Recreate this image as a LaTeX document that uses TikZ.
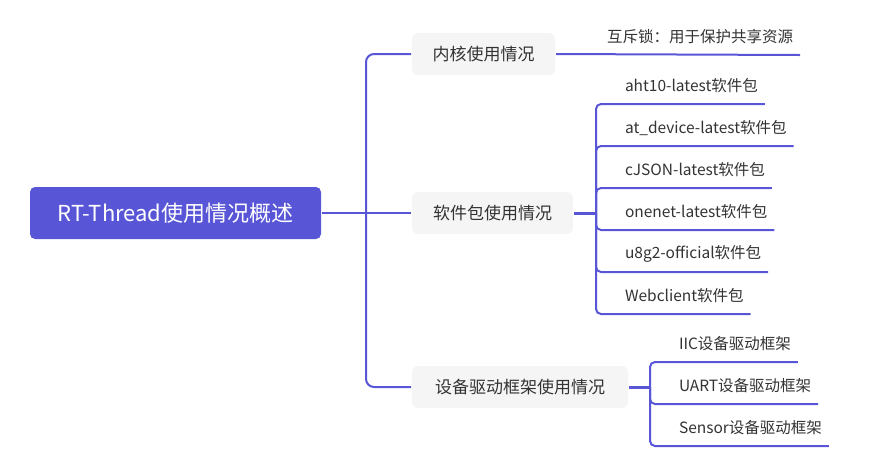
\documentclass[tikz,border=0pt]{standalone}
\usepackage{fontspec}
\setmainfont{Noto Sans CJK SC}
\definecolor{mapblue}{HTML}{5856D6}
\definecolor{boxgray}{HTML}{F5F5F5}
\definecolor{textgray}{HTML}{333333}

\begin{document}
\begin{tikzpicture}[
    x = 1pt,
    y = -1pt,
    line width = 2pt,
    draw = mapblue,
    root/.style = {
      anchor = west,
      fill = mapblue,
      text = white,
      rounded corners = 5pt,
      minimum height = 52pt,
      inner xsep = 0pt,
      font = \fontsize{22pt}{26pt}\selectfont
    },
    topic/.style = {
      anchor = west,
      fill = boxgray,
      text = textgray,
      rounded corners = 6pt,
      minimum height = 42pt,
      inner xsep = 0pt,
      font = \fontsize{17pt}{20pt}\selectfont
    },
    leaf/.style = {
      anchor = west,
      text = textgray,
      minimum height = 34pt,
      inner xsep = 6pt,
      inner ysep = 0pt,
      font = \fontsize{15.5pt}{18pt}\selectfont
    },
    branch/.style = {rounded corners = 8pt},
    twig/.style = {rounded corners = 5pt}
  ]
  \useasboundingbox (0,0) rectangle (890,467);

  % root and main topics
  \node[root, minimum width=291pt] (rt) at (29,213) {RT-Thread使用情况概述};
  \node[topic, minimum width=143pt] (kernel) at (411,54) {内核使用情况};
  \node[topic, minimum width=161pt] (pkg) at (411,213) {软件包使用情况};
  \node[topic, minimum width=216pt] (drv) at (411,387) {设备驱动框架使用情况};

  \coordinate (trunk) at (366,213);
  \coordinate (pkghub) at (596,213);
  \coordinate (drvhub) at (650,387);

  % leaves
  \node[leaf] (mutex) at (600,37) {互斥锁：用于保护共享资源};

  \node[leaf] (aht) at (618,86) {aht10-latest软件包};
  \node[leaf] (atdev) at (618,128) {at\_device-latest软件包};
  \node[leaf] (cjson) at (618,170) {cJSON-latest软件包};
  \node[leaf] (onenet) at (618,212) {onenet-latest软件包};
  \node[leaf] (ueg) at (618,254) {u8g2-official软件包};
  \node[leaf] (web) at (618,296) {Webclient软件包};

  \node[leaf] (iic) at (672,344) {IIC设备驱动框架};
  \node[leaf] (uart) at (672,386) {UART设备驱动框架};
  \node[leaf] (sensor) at (672,428) {Sensor设备驱动框架};

  % connectors
  \draw[line width=2.5pt] (rt.east) -- (trunk);
  \draw[branch] (trunk) |- (kernel.west);
  \draw (trunk) -- (pkg.west);
  \draw[branch] (trunk) |- (drv.west);

  \draw (kernel.east) -- (mutex.south east);

  \draw[line width=3pt] (pkg.east) -- (pkghub);
  \draw[twig] (pkghub) |- (aht.south east);
  \draw[twig] (pkghub) |- (atdev.south east);
  \draw[twig] (pkghub) |- (cjson.south east);
  \draw[twig] (pkghub) |- (onenet.south east);
  \draw[twig] (pkghub) |- (ueg.south east);
  \draw[twig] (pkghub) |- (web.south east);

  \draw[line width=3pt] (drv.east) -- (drvhub);
  \draw[twig] (drvhub) |- (iic.south east);
  \draw[twig] (drvhub) |- (uart.south east);
  \draw[twig] (drvhub) |- (sensor.south east);
\end{tikzpicture}
\end{document}
